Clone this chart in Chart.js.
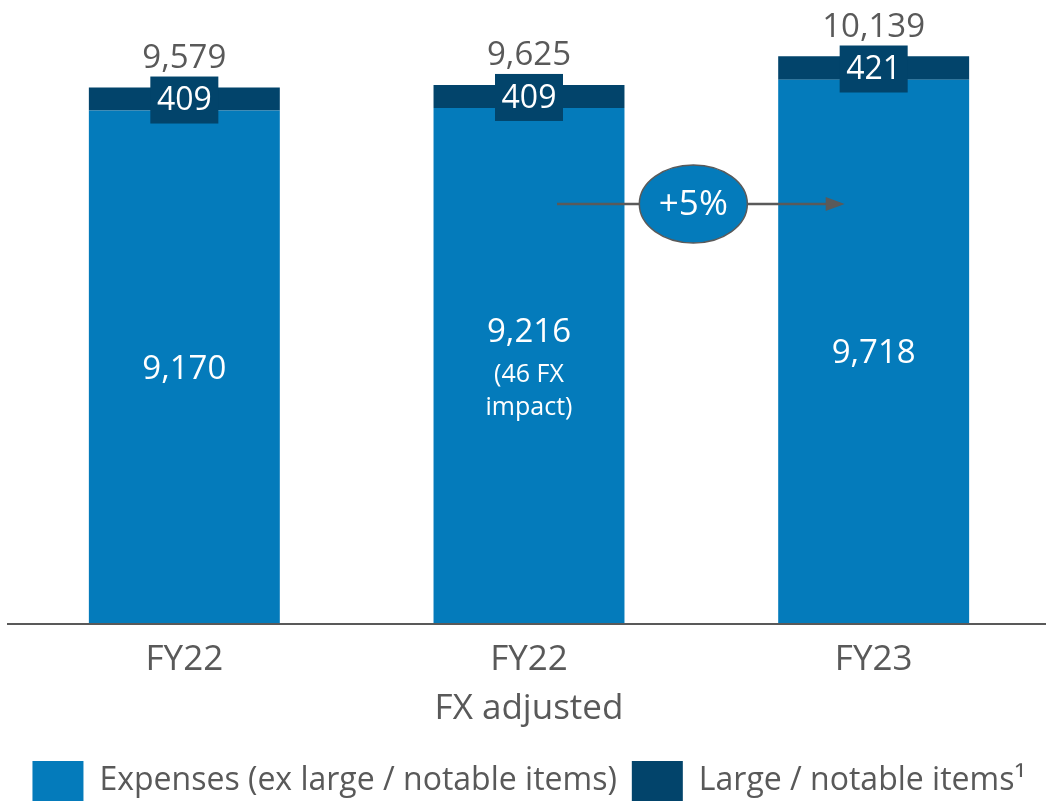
<!DOCTYPE html>
<html>
<head>
<meta charset="utf-8">
<script src="https://cdn.jsdelivr.net/npm/chart.js@4.4.0/dist/chart.umd.min.js"></script>
<style>
  html, body { margin: 0; padding: 0; background: #ffffff; overflow: hidden; }
  #wrap { width: 1046px; height: 805px; position: relative; }
</style>
</head>
<body>
<div id="wrap"><canvas id="c"></canvas></div>
<script>
// ---- Data ----
const categories = [["FY22"], ["FY22", "FX adjusted"], ["FY23"]];
const expensesExLarge = [9170, 9216, 9718];
const largeNotable = [409, 409, 421];
const totals = [9579, 9625, 10139];
const barNotes = [[], ["(46 FX", "impact)"], []];
const growthLabel = "+5%";
const seriesNames = ["Expenses (ex large / notable items)", "Large / notable items\u00B9"];

// ---- Styles ----
const LIGHT = "#047BBB";
const DARK = "#02446B";
const GRAY = "#595959";
const FONT = '"Open Sans", "Noto Sans", sans-serif';

const fmt = v => v.toLocaleString("en-US");

const annotations = {
  id: "annotations",
  afterDatasetsDraw(chart) {
    const ctx = chart.ctx;
    const m0 = chart.getDatasetMeta(0);
    const m1 = chart.getDatasetMeta(1);
    const ys = chart.scales.y;
    ctx.save();
    // baseline axis line
    ctx.strokeStyle = GRAY;
    ctx.lineWidth = 2;
    ctx.beginPath();
    ctx.moveTo(7, ys.bottom);
    ctx.lineTo(chart.width, ys.bottom);
    ctx.stroke();

    ctx.textAlign = "center";
    categories.forEach((c, i) => {
      const b1 = m1.data[i];
      const cx = b1.x;
      const bcy = (b1.y + b1.base) / 2 + 1;
      // dark label box
      ctx.fillStyle = DARK;
      ctx.fillRect(cx - 34, bcy - 23.5, 68, 47);
      ctx.fillStyle = "#ffffff";
      ctx.font = "32px " + FONT;
      ctx.textBaseline = "middle";
      ctx.fillText(fmt(largeNotable[i]), cx, bcy + 1);
      // total above
      ctx.fillStyle = GRAY;
      ctx.font = "33px " + FONT;
      ctx.textBaseline = "alphabetic";
      ctx.fillText(fmt(totals[i]), cx, bcy - 23.5 - 9);
      // main segment label
      const b0 = m0.data[i];
      const mid = (b0.y + b0.base) / 2;
      ctx.fillStyle = "#ffffff";
      ctx.textBaseline = "middle";
      ctx.font = "33px " + FONT;
      const notes = barNotes[i];
      if (notes.length) {
        ctx.fillText(fmt(expensesExLarge[i]), cx, mid - 33);
        ctx.font = "25px " + FONT;
        notes.forEach((t, k) => ctx.fillText(t, cx, mid + 9 + k * 33));
      } else {
        ctx.fillText(fmt(expensesExLarge[i]), cx, mid + 2);
      }
    });

    // growth arrow between bar 2 and bar 3
    const c2 = m0.data[1].x, c3 = m0.data[2].x;
    const ay = ys.getPixelForValue(7500);
    const x0 = c2 + 28, x1 = c3 - 29;
    ctx.strokeStyle = "#5a5a5a";
    ctx.lineWidth = 2.5;
    ctx.beginPath();
    ctx.moveTo(x0, ay);
    ctx.lineTo(x1 - 16, ay);
    ctx.stroke();
    ctx.fillStyle = "#5a5a5a";
    ctx.beginPath();
    ctx.moveTo(x1, ay);
    ctx.lineTo(x1 - 19, ay - 7);
    ctx.lineTo(x1 - 19, ay + 7);
    ctx.closePath();
    ctx.fill();
    // ellipse
    const ex = (c2 + c3) / 2 - 8;
    ctx.beginPath();
    ctx.ellipse(ex, ay, 54, 39, 0, 0, Math.PI * 2);
    ctx.fillStyle = LIGHT;
    ctx.fill();
    ctx.lineWidth = 1.5;
    ctx.strokeStyle = "#5a5a5a";
    ctx.stroke();
    ctx.fillStyle = "#ffffff";
    ctx.font = "35px " + FONT;
    ctx.textBaseline = "middle";
    ctx.fillText(growthLabel, ex, ay + 1);
    ctx.restore();
  }
};

new Chart(document.getElementById("c"), {
  type: "bar",
  data: {
    labels: categories,
    datasets: [
      { label: seriesNames[0], data: expensesExLarge, backgroundColor: LIGHT, borderWidth: 0,
        barPercentage: 0.554, categoryPercentage: 1 },
      { label: seriesNames[1], data: largeNotable, backgroundColor: DARK, borderWidth: 0,
        barPercentage: 0.554, categoryPercentage: 1 }
    ]
  },
  options: {
    responsive: true,
    maintainAspectRatio: false,
    devicePixelRatio: 1,
    animation: false,
    layout: { padding: { left: 12, right: 0, top: 8, bottom: -6 } },
    scales: {
      x: {
        stacked: true,
        grid: { display: false, drawTicks: false },
        border: { display: false },
        ticks: { color: GRAY, font: { family: FONT, size: 35, lineHeight: 1.4 }, padding: 12, maxRotation: 0, autoSkip: false }
      },
      y: {
        stacked: true,
        display: false,
        min: 0,
        max: 11000
      }
    },
    plugins: {
      legend: {
        position: "bottom",
        labels: {
          boxWidth: 51,
          boxHeight: 40,
          padding: 15,
          color: GRAY,
          font: { family: FONT, size: 32 }
        }
      },
      tooltip: { enabled: false }
    }
  },
  plugins: [annotations]
});
</script>
</body>
</html>
